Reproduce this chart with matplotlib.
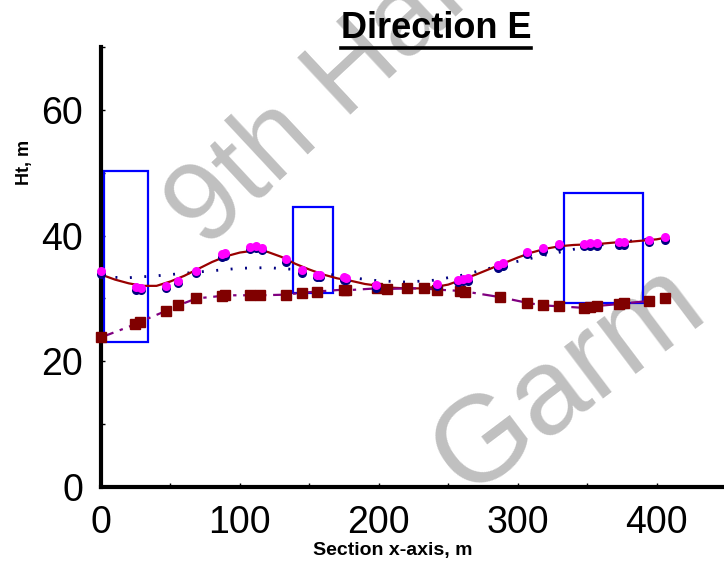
import numpy as np
import matplotlib.pyplot as plt
from matplotlib.patches import Rectangle
from matplotlib.lines import Line2D

plt.rcParams['font.family'] = ['Liberation Sans', 'DejaVu Sans']

# surveyed crest points (upper layer) along the section
pt_x = [0, 25, 28.5, 46.6, 55.7, 68.7, 87, 89.6, 107.6, 111.7, 116, 133.3,
        145, 155.5, 157.5, 174.7, 176.7, 198, 242, 257, 260.7, 264, 286,
        289.5, 307, 318, 329.5, 347.5, 351.8, 357, 372.7, 376.3, 394.6, 405.8]
pt_top = [34.3, 31.8, 31.7, 32.0, 32.8, 34.4, 37.0, 37.2, 38.2, 38.4, 38.1, 36.2,
          34.5, 33.8, 33.8, 33.4, 33.3, 32.1, 32.3, 33.0, 33.1, 33.2, 35.3,
          35.6, 37.4, 38.0, 38.7, 38.7, 38.8, 38.8, 38.9, 38.9, 39.3, 39.7]
pt_base = [33.9, 31.4, 31.3, 31.6, 32.4, 34.0, 36.6, 36.8, 37.8, 38.0, 37.7, 35.8,
           34.1, 33.4, 33.4, 33.0, 32.9, 31.7, 31.9, 32.6, 32.7, 32.8, 34.9,
           35.2, 37.0, 37.6, 38.3, 38.3, 38.4, 38.4, 38.5, 38.5, 38.9, 39.3]

# lower layer points
sq_x = [0, 24.8, 28.4, 46.6, 55.7, 68.7, 87, 89.6, 107.6, 114.8, 133.3, 145,
        155.6, 174.7, 176.7, 198.5, 206, 220.4, 232.3, 242, 258.7, 262.3,
        287.5, 306.8, 318, 329.5, 347.5, 351.8, 357, 372.7, 376.3, 394.6, 405.8]
sq_y = [23.8, 25.9, 26.3, 28.0, 28.9, 30.0, 30.4, 30.5, 30.5, 30.5, 30.6, 30.9,
        31.1, 31.4, 31.3, 31.6, 31.5, 31.6, 31.6, 31.4, 31.2, 31.1,
        30.2, 29.3, 28.9, 28.75, 28.5, 28.7, 28.8, 29.1, 29.2, 29.6, 30.0]

# fitted profile
fit_x = [0, 10, 20, 30, 40, 50, 60, 70, 80, 90, 100, 110, 120, 130, 140, 150,
         160, 170, 180, 190, 200, 210, 220, 230, 240, 250, 260, 270, 280, 290,
         300, 310, 320, 330, 340, 350, 360, 370, 380, 390, 400, 405]
fit_y = [33.8, 33.0, 32.4, 32.0, 32.0, 32.7, 33.6, 34.7, 35.8, 36.7, 37.3, 37.6,
         37.4, 36.6, 35.5, 34.6, 33.8, 33.2, 32.8, 32.3, 32.0, 31.7, 31.6, 31.6,
         31.8, 32.2, 33.0, 33.8, 34.7, 35.6, 36.5, 37.3, 37.9, 38.3, 38.5, 38.6,
         38.7, 38.9, 39.0, 39.2, 39.4, 39.6]

# trend line
trend_x = [0, 20, 40, 60, 80, 100, 120, 140, 160, 180, 200, 220, 240, 260,
           280, 300, 320, 340, 360, 380, 400]
trend_y = [33.4, 33.3, 33.6, 34.0, 34.4, 34.8, 34.9, 34.6, 34.0, 33.3, 32.8,
           32.6, 32.9, 33.7, 34.8, 35.9, 36.9, 37.8, 38.5, 39.1, 39.6]

# zones
box_x0 = [2.5, 138.3, 333.4]
box_x1 = [33.6, 166.8, 390.0]
box_y0 = [23.1, 30.9, 29.2]
box_y1 = [50.2, 44.5, 46.7]

W, H = 724, 565
fig = plt.figure(figsize=(W / 100, H / 100), dpi=100)
ax = fig.add_axes([101 / W, 1 - 487 / H, 625 / W, 440 / H])
ax.patch.set_visible(False)

# watermark behind everything
fig.text(205 / W, 1 - 250 / H, '9th Hall', fontsize=82, color='#c0c0c0',
         rotation=43, rotation_mode='anchor', ha='left', va='baseline', zorder=-5)
fig.text(466 / W, 1 - 497 / H, 'Garm', fontsize=88, color='#c0c0c0',
         rotation=37, rotation_mode='anchor', ha='left', va='baseline', zorder=-5)

for x0, x1, y0, y1 in zip(box_x0, box_x1, box_y0, box_y1):
    ax.add_patch(Rectangle((x0, y0), x1 - x0, y1 - y0, fill=False,
                           edgecolor='#0000ff', lw=1.6, zorder=2))

ax.plot(trend_x, trend_y, color='#000080', lw=2, ls=(0, (0.7, 4.5)), zorder=3)
ax.plot(fit_x, fit_y, color='#990000', lw=1.6, zorder=3)
ax.plot(sq_x, sq_y, color='#800080', lw=1.6, ls=(0, (6, 3, 1.5, 3)), zorder=3)
ax.plot(sq_x, sq_y, 's', color='#800000', ms=7, mec='#800000', zorder=4,
        clip_on=False)
ax.plot(pt_x, pt_base, 'o', color='#000080', ms=6.5, mec='none', zorder=4,
        clip_on=False)
ax.plot(pt_x, pt_top, 'o', color='#ff00ff', ms=6.5, mec='none', zorder=5,
        clip_on=False)

ax.set_xlim(0, 450)
ax.set_ylim(0, 70)
ax.set_xticks([0, 100, 200, 300, 400])
ax.set_xticks([50, 150, 250, 350, 450], minor=True)
ax.set_yticks([0, 20, 40, 60])
ax.set_yticks([10, 30, 50, 70], minor=True)
ax.tick_params(which='both', direction='in', length=3, width=1,
               labelsize=27, pad=13)
for s in ['top', 'right']:
    ax.spines[s].set_visible(False)
for s in ['left', 'bottom']:
    ax.spines[s].set_linewidth(3)

fig.text(25 / W, 1 - 162 / H, 'Ht, m', rotation=90, fontsize=13,
         fontweight='bold', ha='center', va='center')
fig.text(393 / W, 1 - 550 / H, 'Section x-axis, m', fontsize=14,
         fontweight='bold', ha='center', va='center')

title = fig.text(436 / W, 1 - 28 / H, 'Direction E', fontsize=26,
                 fontweight='bold', ha='center', va='center')
fig.canvas.draw()
bb = title.get_window_extent()
fig.add_artist(Line2D([bb.x0 / W, bb.x1 / W], [1 - 47.5 / H, 1 - 47.5 / H],
                      transform=fig.transFigure, color='black', lw=2.6))

fig.savefig('out.png', dpi=100)
